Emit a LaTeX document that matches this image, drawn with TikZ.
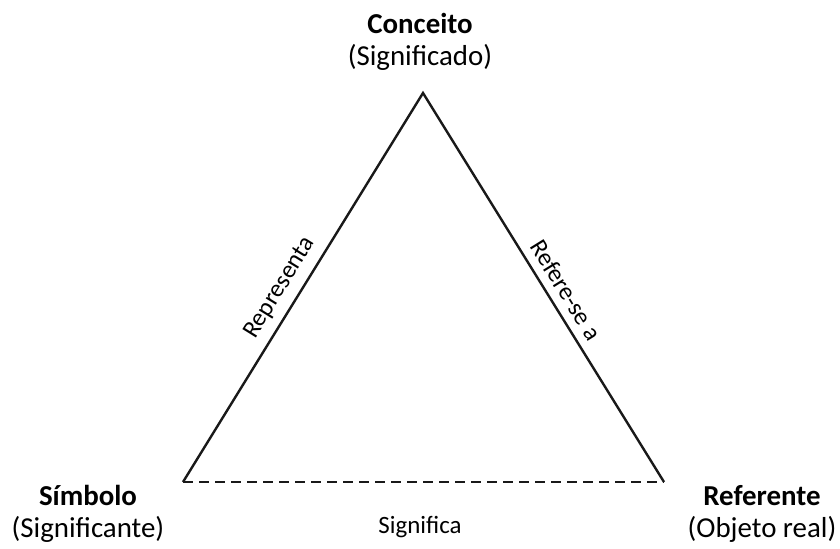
\documentclass[tikz,border=0pt]{standalone}
\usepackage{fontspec}
\setmainfont{Carlito}
\begin{document}
\begin{tikzpicture}[x=1bp,y=-1bp,
  edge/.style={line width=2.4bp,black!90},
  dashedge/.style={line width=2.4bp,black!90,dash pattern=on 10bp off 6bp},
  vlabel/.style={font=\fontsize{29}{32}\selectfont,align=center,inner sep=0pt},
  slabel/.style={font=\fontsize{25}{29}\selectfont,inner sep=0pt}]
  \useasboundingbox (0,0) rectangle (840,549);
  % triangle corners
  \coordinate (top) at (423,93);
  \coordinate (left) at (183,482);
  \coordinate (right) at (664,482);
  % vertex labels
  \node[vlabel] (conceito) at (420,42) {\textbf{Conceito}\\(Significado)};
  \node[vlabel] (simbolo) at (88,514) {\textbf{Símbolo}\\(Significante)};
  \node[vlabel] (referente) at (762,514) {\textbf{Referente}\\(Objeto real)};
  % sides
  \draw[edge,line join=miter] (left) -- (top) -- (right);
  \draw[dashedge] (left) -- (right);
  % side labels
  \node[slabel,rotate=58.3] (representa) at (280,288) {Representa};
  \node[slabel,rotate=-58.2] (referese) at (566,290) {Refere-se a};
  \node[slabel] (significa) at (420,527) {Significa};
\end{tikzpicture}
\end{document}
